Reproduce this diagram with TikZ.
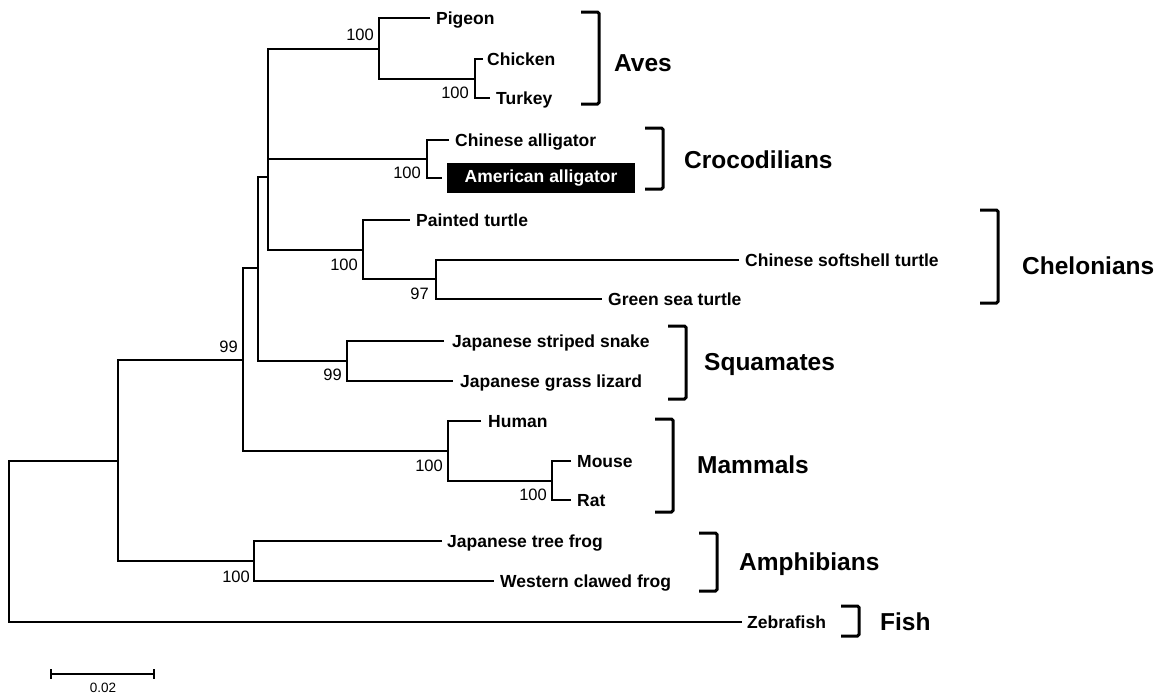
\documentclass[tikz,border=0pt]{standalone}
\usepackage{fontspec}
\setmainfont{Liberation Sans}
\newcommand\leaffnt{\fontsize{17.5}{20}\selectfont\bfseries}
\newcommand\grpfnt{\fontsize{24.5}{28}\selectfont\bfseries}
\newcommand\bsfnt{\fontsize{16.5}{19}\selectfont}
\begin{document}
\begin{tikzpicture}[x=1pt,y=-1pt,
  br/.style={line width=2.5pt},
  brk/.style={line width=3pt, rounded corners=1.5pt},
  leaf/.style={anchor=west, inner sep=0pt, text height=12.5pt, text depth=0pt, font=\leaffnt},
  grp/.style={anchor=west, inner sep=0pt, text height=17.5pt, text depth=0pt, font=\grpfnt},
  bs/.style={anchor=east, inner sep=0pt, text height=11.8pt, text depth=0pt, font=\bsfnt}]
\useasboundingbox (0,0) rectangle (1168,697);

% internal nodes
\coordinate (nR) at (9,541);
\coordinate (n1) at (118,461);
\coordinate (nA) at (243,360);
\coordinate (nB) at (258,268);
\coordinate (nC) at (268,177);
\coordinate (nAv) at (379,49);
\coordinate (nCT) at (475,79);
\coordinate (nCr) at (427,159);
\coordinate (nTu) at (363,250);
\coordinate (n97) at (436,279);
\coordinate (nSq) at (347,361);
\coordinate (nMa) at (448,451);
\coordinate (nMR) at (552,481);
\coordinate (nAm) at (254,561);

% leaves
\node[leaf] (pig) at (436,18) {Pigeon};
\node[leaf] (chk) at (487,59) {Chicken};
\node[leaf] (tur) at (496,98) {Turkey};
\node[leaf] (cal) at (455,140) {Chinese alligator};
\node[fill=black, text=white, font=\leaffnt, minimum width=188pt, minimum height=30pt, inner sep=0pt] (aal) at (541,178) {American alligator};
\node[leaf] (pt) at (416,220) {Painted turtle};
\node[leaf] (cst) at (745,260) {Chinese softshell turtle};
\node[leaf] (gst) at (608,299) {Green sea turtle};
\node[leaf] (jss) at (452,341) {Japanese striped snake};
\node[leaf] (jgl) at (460,381) {Japanese grass lizard};
\node[leaf] (hum) at (488,421) {Human};
\node[leaf] (mou) at (577,461) {Mouse};
\node[leaf] (rat) at (577,500) {Rat};
\node[leaf] (jtf) at (447,541) {Japanese tree frog};
\node[leaf] (wcf) at (500,581) {Western clawed frog};
\node[leaf] (zeb) at (747,622) {Zebrafish};

% tree
\draw[br] (nA) -| (n1) |- (nAm);
\draw[br] (n1) -| (nR) |- ([xshift=-5pt]zeb.west);
\draw[br] (nB) -| (nA) |- (nMa);
\draw[br] (nC) -| (nB) |- (nSq);
\draw[br] (nAv) -| (nC) |- (nTu);
\draw[br] (nC |- nCr) -- (nCr);
\draw[br] ([xshift=-6pt]pig.west) -| (nAv) |- (nCT);
\draw[br] ([xshift=-4pt]chk.west) -| (nCT) |- ([xshift=-6pt]tur.west);
\draw[br] ([xshift=-6pt]cal.west) -| (nCr) |- ([xshift=-5pt]aal.west);
\draw[br] ([xshift=-6pt]pt.west) -| (nTu) |- (n97);
\draw[br] ([xshift=-6pt]cst.west) -| (n97) |- ([xshift=-6pt]gst.west);
\draw[br] ([xshift=-8pt]jss.west) -| (nSq) |- ([xshift=-7pt]jgl.west);
\draw[br] ([xshift=-7pt]hum.west) -| (nMa) |- (nMR);
\draw[br] ([xshift=-6pt]mou.west) -| (nMR) |- ([xshift=-6pt]rat.west);
\draw[br] ([xshift=-5pt]jtf.west) -| (nAm) |- ([xshift=-6pt]wcf.west);

% bootstrap values
\node[bs] (b1) at (374,35) {100};
\node[bs] (b2) at (469,93) {100};
\node[bs] (b3) at (421,173) {100};
\node[bs] (b4) at (358,265) {100};
\node[bs] (b5) at (429,294) {97};
\node[bs] (b6) at (238,347) {99};
\node[bs] (b7) at (342,375) {99};
\node[bs] (b8) at (443,466) {100};
\node[bs] (b9) at (547,495) {100};
\node[bs] (b10) at (250,577) {100};

% brackets
\draw[brk] (581,12) -- (599,12) -- (599,104) -- (581,104);
\draw[brk] (645,128) -- (663,128) -- (663,189) -- (645,189);
\draw[brk] (980,210) -- (998,210) -- (998,303) -- (980,303);
\draw[brk] (668,326) -- (686,326) -- (686,399) -- (668,399);
\draw[brk] (655,419) -- (673,419) -- (673,512) -- (655,512);
\draw[brk] (699,533) -- (717,533) -- (717,591) -- (699,591);
\draw[brk] (841,606) -- (859,606) -- (859,636) -- (841,636);

% group labels
\node[grp] (gAves) at (614,63) {Aves};
\node[grp] (gCroc) at (684,160) {Crocodilians};
\node[grp] (gChel) at (1022,266) {Chelonians};
\node[grp] (gSqua) at (704,362) {Squamates};
\node[grp] (gMamm) at (697,465) {Mammals};
\node[grp] (gAmph) at (739,562) {Amphibians};
\node[grp] (gFish) at (880,622) {Fish};

% scale bar
\coordinate (sL) at (51,674);
\coordinate (sR) at (154,674);
\draw[br] (sL) -- (sR);
\draw[br] ([yshift=5pt]sL) -- ([yshift=-5pt]sL);
\draw[br] ([yshift=5pt]sR) -- ([yshift=-5pt]sR);
\node[inner sep=0pt, font=\fontsize{13.5}{15}\selectfont] (sLab) at (103,688) {0.02};
\end{tikzpicture}
\end{document}
